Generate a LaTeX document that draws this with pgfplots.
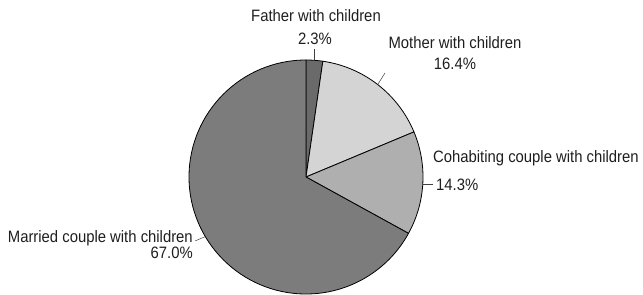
\documentclass[border=0pt]{standalone}
\usepackage{fontspec}
\setmainfont{Liberation Sans}[FakeStretch=0.9]
\usepackage{pgfplots}
\pgfplotsset{compat=1.18}
\definecolor{cFather}{HTML}{6A6A6A}
\definecolor{cMother}{HTML}{D4D4D4}
\definecolor{cCohab}{HTML}{AFAFAF}
\definecolor{cMarried}{HTML}{7C7C7C}
\definecolor{txt}{HTML}{1E1E1E}
% data (percent)
\def\vFather{2.3}
\def\vMother{16.4}
\def\vCohab{14.3}
\def\vMarried{67.0}
\pgfmathsetmacro\aA{90}
\pgfmathsetmacro\aB{\aA-3.6*\vFather}
\pgfmathsetmacro\aC{\aB-3.6*\vMother}
\pgfmathsetmacro\aD{\aC-3.6*\vCohab}
\pgfmathsetmacro\aE{\aD-3.6*\vMarried}
\newcommand\slice[3]{%
  \fill[#3, draw=black, line width=0.8pt, line join=round]
    (axis cs:306,117) -- (axis cs:{306+117*cos(#1)},{117+117*sin(#1)})
    arc[start angle=#1, end angle=#2, radius=117] -- cycle;}
\begin{document}
\begin{tikzpicture}
\begin{axis}[
  scale only axis, width=643pt, height=294pt,
  xmin=0, xmax=643, ymin=0, ymax=294,
  hide axis, clip=false,
]
\path (axis cs:0,0) rectangle (axis cs:643,294);
\slice{\aB}{\aA}{cFather}
\slice{\aC}{\aB}{cMother}
\slice{\aD}{\aC}{cCohab}
\slice{\aE}{\aD}{cMarried}
% leader lines
\draw[black!75, line width=0.5pt] (axis cs:314.4,234) -- (axis cs:314.4,245);
\draw[black!75, line width=0.5pt] (axis cs:377.7,209.5) -- (axis cs:385,221);
\draw[black!75, line width=0.5pt] (axis cs:422.8,110) -- (axis cs:433,110);
\draw[black!75, line width=0.5pt] (axis cs:205.3,57.4) -- (axis cs:195,53);
% labels
\tikzset{lab/.style={text=txt, inner sep=0pt, font=\fontsize{16.5}{18}\selectfont}}
\node[lab, anchor=base] at (axis cs:316,272) {Father with children};
\node[lab, anchor=base] at (axis cs:315,249) {2.3\%};
\node[lab, anchor=base] at (axis cs:455,245) {Mother with children};
\node[lab, anchor=base] at (axis cs:455,224) {16.4\%};
\node[lab, anchor=base west] at (axis cs:433,131) {Cohabiting couple with children};
\node[lab, anchor=base west] at (axis cs:436,103) {14.3\%};
\node[lab, anchor=base east] at (axis cs:193,51) {Married couple with children};
\node[lab, anchor=base east] at (axis cs:193,35) {67.0\%};
\end{axis}
\end{tikzpicture}
\end{document}
